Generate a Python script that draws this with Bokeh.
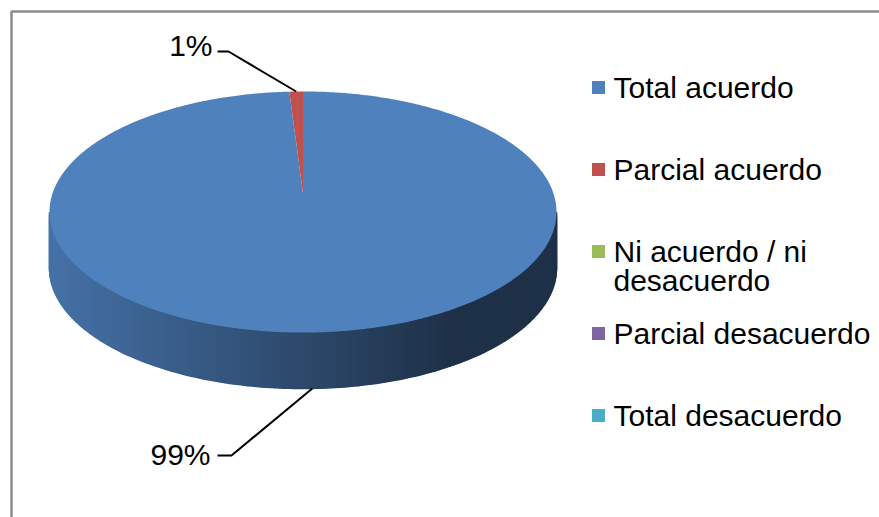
import numpy as np
from bokeh.plotting import figure
from bokeh.models import Range1d
from bokeh.core.properties import value
from bokeh.embed import file_html
from bokeh.resources import INLINE

# ---------------- data ----------------
categories = ["Total acuerdo", "Parcial acuerdo", "Ni acuerdo / ni desacuerdo",
              "Parcial desacuerdo", "Total desacuerdo"]
values = [99, 1, 0, 0, 0]
legend_text = ["Total acuerdo", "Parcial acuerdo", "Ni acuerdo / ni\ndesacuerdo",
               "Parcial desacuerdo", "Total desacuerdo"]
colors = ["#4F81BD", "#C0504D", "#9BBB59", "#8064A2", "#4BACC6"]

# ---------------- layout ----------------
W, H = 879, 517
X0, Y0 = 0, 0
FONT = "Liberation Sans"
FS = "30px"

CX, CY = 302.5, 193.0      # apex of pie top face
A, B, K = 117.7, 250.5, 0.1535
DEPTH = 56.0

p = figure(width=W, height=H, output_backend="svg", toolbar_location=None,
           x_range=Range1d(X0, X0 + W), y_range=Range1d(Y0 + H, Y0),
           min_border=0, x_axis_location=None, y_axis_location=None)
p.grid.visible = False
p.outline_line_color = None
p.background_fill_color = "white"
p.border_fill_color = "white"


def proj(theta_deg, dz=0.0):
    t = np.radians(theta_deg)
    u, v = np.sin(t), np.cos(t)
    s = 1 + K * v
    return CX + B * u / s, CY - A * v / s + dz


total = float(sum(values))
cum = np.concatenate([[0], np.cumsum(values)]) / total * 360.0


def slice_of(theta):
    for i in range(len(values)):
        if cum[i] <= theta < cum[i + 1]:
            return i
    return len(values) - 1


def shade(hexcol, f):
    r, g, b = int(hexcol[1:3], 16), int(hexcol[3:5], 16), int(hexcol[5:7], 16)
    return "#%02x%02x%02x" % (int(round(r * f)), int(round(g * f)), int(round(b * f)))


# side wall (front visible part) with horizontal gradient
th1 = np.degrees(np.arccos(-K))
th2 = 360 - th1
ths = np.linspace(th1, th2, 181)

# base fill beneath strips to hide seams
tx, ty = proj(ths)
base_x = np.concatenate([tx, tx[::-1]])
base_y = np.concatenate([ty, (ty + DEPTH)[::-1]])
p.patch(base_x, base_y, fill_color=shade(colors[0], 0.6), line_color=None)

xs_side, ys_side, cols_side = [], [], []
for a0, a1 in zip(ths[:-1], ths[1:]):
    xa, ya = proj(a0)
    xb, yb = proj(a1)
    xs_side.append([xa, xb, xb, xa])
    ys_side.append([ya, yb, yb + DEPTH, ya + DEPTH])
    xm = (xa + xb) / 2
    f = 0.88 - 0.50 * np.clip((xm - 50) / 400.0, 0, 1)
    cols_side.append(shade(colors[slice_of((a0 + a1) / 2)], f))
p.patches(xs_side, ys_side, fill_color=cols_side, line_color=cols_side, line_width=1.5)

# top face wedges
for i, v in enumerate(values):
    if v <= 0:
        continue
    a = np.linspace(cum[i], cum[i + 1], max(int((cum[i + 1] - cum[i]) * 2), 4))
    rx, ry = proj(a)
    xs = np.concatenate([[CX], rx])
    ys = np.concatenate([[CY], ry])
    p.patch(xs, ys, fill_color=colors[i], line_color=None)

# data labels with leader lines
label_layout = {
    0: dict(tx=210, ty=454, elbow=[(217, 455), (231, 455)], dz=DEPTH),
    1: dict(tx=212, ty=45, elbow=[(217, 51), (228, 51)], dz=0.0),
}
for i, v in enumerate(values):
    if v <= 0 or i not in label_layout:
        continue
    L = label_layout[i]
    mid = (cum[i] + cum[i + 1]) / 2
    ex, ey = proj(mid, L["dz"])
    lx = [L["elbow"][0][0], L["elbow"][1][0], ex]
    ly = [L["elbow"][0][1], L["elbow"][1][1], ey]
    p.line(lx, ly, line_color="black", line_width=2)
    p.text([L["tx"]], [L["ty"]], text=["%d%%" % round(v / total * 100)],
           text_font=value(FONT), text_font_size=FS, text_color="black",
           text_align="right", text_baseline="alphabetic")

# legend
LEG_X, LEG_Y, LEG_DY = 598, 87, 82
for i, lab in enumerate(legend_text):
    yy = LEG_Y + i * LEG_DY
    p.rect([LEG_X], [yy], width=13, height=13, fill_color=colors[i], line_color=None)
    for j, line in enumerate(lab.split("\n")):
        p.text([613], [yy + j * 29], text=[line], text_font=value(FONT),
               text_font_size=FS, text_color="black",
               text_align="left", text_baseline="middle")

# chart area border (top and left visible)
p.line([11, 11, X0 + W], [Y0 + H, 11, 11], line_color="#8c8c8c", line_width=2.5)

open("out.html", "w").write(file_html(p, INLINE))
